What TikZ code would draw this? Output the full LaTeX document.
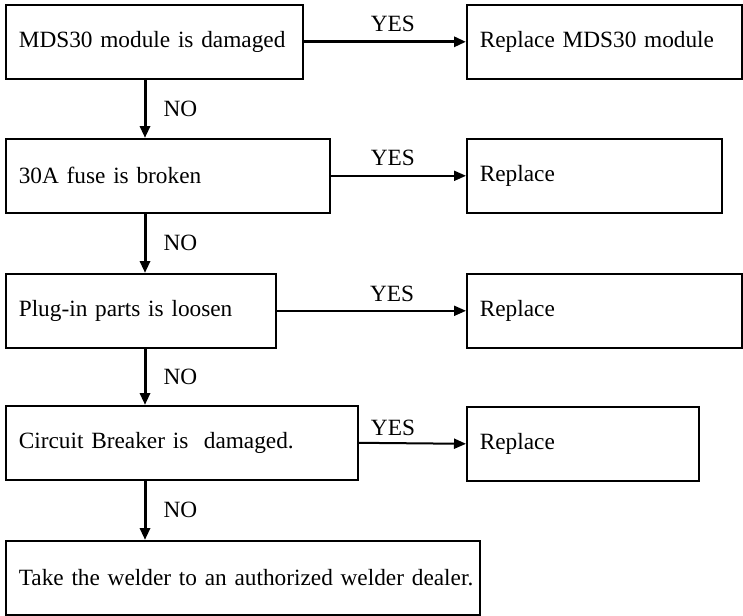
\documentclass[tikz,border=0pt]{standalone}
\usepackage{fontspec}
\setmainfont{Liberation Serif}
\usepackage{tikz}
\usetikzlibrary{arrows.meta}

\tikzset{
    box/.style={draw, rectangle, line width=1.6pt, anchor=north west, inner xsep=0pt, inner ysep=0pt,
        minimum height=74pt, text width=#1, align=left, execute at begin node={\leftskip=13pt}},
    noarr/.style={line width=3pt, -{Triangle[length=12pt, width=10pt]}},
    yesarr/.style={line width=2pt, -{Triangle[length=12pt, width=10pt]}},
    lbl/.style={inner sep=0pt}
}

\begin{document}
\begin{tikzpicture}[x=1pt, y=-1pt, font=\fontsize{23.3}{28}\selectfont]
            \useasboundingbox (0,0) rectangle (743,615);
            % checks on the left
            \node[box=297pt] (dmg) at (5,4) {MDS30 module is damaged};
            \node[box=324pt] (fuse) at (5,138) {30A fuse is broken};
            \node[box=270pt] (plug) at (5,273) {Plug-in parts is loosen};
            \node[box=352pt] (brk) at (5,405) {Circuit Breaker is\ \ damaged.};
            \node[box=474pt] (dealer) at (5,540) {Take the welder to an authorized welder dealer.};
            % actions on the right
            \node[box=275pt] (rep1) at (466,4) {Replace MDS30 module};
            \node[box=255pt] (rep2) at (466,138) {Replace};
            \node[box=275pt] (rep3) at (466,273) {Replace};
            \node[box=232pt] (rep4) at (466,406) {Replace};
            % YES
            \draw[yesarr, line width=3pt] (dmg.east) -- (rep1.west) node[lbl, pos=0.55, above=9pt] {YES};
            \draw[yesarr] (fuse.east) -- (rep2.west) node[lbl, pos=0.46, above=9pt] {YES};
            \draw[yesarr] (plug.east) -- (rep3.west) node[lbl, pos=0.61, above=8pt] {YES};
            \draw[yesarr] (brk.east) -- (rep4.west) node[lbl, pos=0.32, above=6pt] {YES};
            % NO
            \draw[noarr] ([xshift=140pt]dmg.south west) -- ([xshift=140pt]fuse.north west) node[lbl, midway, right=17pt] {NO};
            \draw[noarr] ([xshift=140pt]fuse.south west) -- ([xshift=140pt]plug.north west) node[lbl, midway, right=17pt] {NO};
            \draw[noarr] ([xshift=140pt]plug.south west) -- ([xshift=140pt]brk.north west) node[lbl, midway, right=17pt] {NO};
            \draw[noarr] ([xshift=140pt]brk.south west) -- ([xshift=140pt]dealer.north west) node[lbl, midway, right=17pt] {NO};
\end{tikzpicture}
\end{document}
